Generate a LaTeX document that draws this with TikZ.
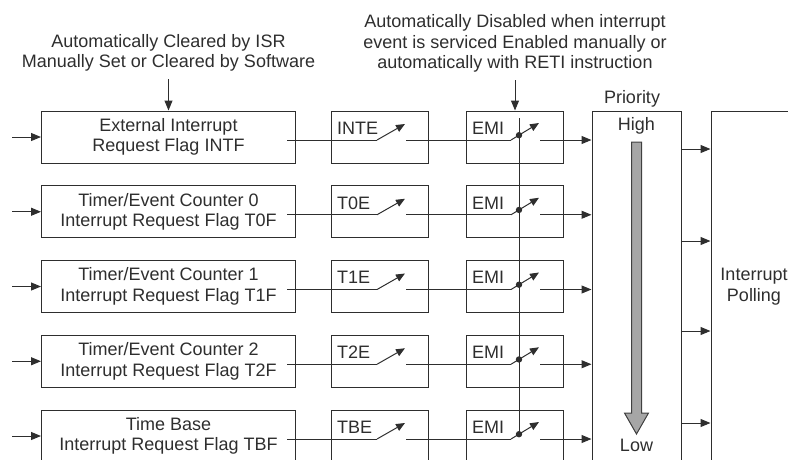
\documentclass[tikz,border=0pt]{standalone}
\usepackage{fontspec}
\setmainfont{Liberation Sans}
\usetikzlibrary{arrows.meta,calc}

\begin{document}
\begin{tikzpicture}[x=1pt, y=-1pt,
  font=\fontsize{18}{20.5}\selectfont,
  color=black!82, line width=1pt,
  flagbox/.style={draw, minimum width=254pt, minimum height=52pt, align=center, inner sep=0pt},
  swbox/.style={draw, minimum width=97pt, minimum height=52pt, inner sep=0pt},
  tag/.style={anchor=north west, inner sep=0pt},
  note/.style={align=center, inner sep=0pt},
  arr/.style={-{Triangle[length=10pt, width=8pt]}},
  lever/.style={-{Triangle[length=9pt, width=7.5pt]}}]
\clip (0,0) rectangle (788,459);
% priority and polling blocks
\node[draw, minimum width=89pt, minimum height=380pt, inner sep=0pt] (prio) at (636.5,301) {};
\node[draw, minimum width=119pt, minimum height=380pt, inner sep=0pt] (poll) at (770.5,301) {};
\node[anchor=south, inner sep=0pt] (priolbl) at (632,108) {Priority};
\node[inner sep=0pt] (high) at (636.5,125.5) {High};
\node[inner sep=0pt] (low) at (636.5,445.5) {Low};
\node[note] (polltxt) at (754,286.5) {Interrupt\\Polling};
\draw[fill=black!35, draw=black!75] (631.5,142) -- (641.5,142) -- (641.5,413) -- (648.5,413)
  -- (636.5,434) -- (624.5,413) -- (631.5,413) -- cycle;
\foreach \y in {149,241,331,423}
  \draw[arr] (prio.east |- 0,\y) -- (poll.west |- 0,\y);
% one row per interrupt source
\foreach \txt/\en [count=\i] in {{External Interrupt\\Request Flag INTF}/INTE,
    {Timer/Event Counter 0\\Interrupt Request Flag T0F}/T0E,
    {Timer/Event Counter 1\\Interrupt Request Flag T1F}/T1E,
    {Timer/Event Counter 2\\Interrupt Request Flag T2F}/T2E,
    {Time Base\\Interrupt Request Flag TBF}/TBE} {
  \pgfmathsetmacro\yt{111+74.75*(\i-1)}
  \node[flagbox] (flag\i) at (168.5,\yt+26) {\txt};
  \node[swbox] (en\i) at (379.5,\yt+26) {};
  \node[tag] (ent\i) at ($(en\i.north west)+(6,11)$) {\en};
  \node[swbox] (emi\i) at (514.5,\yt+26) {};
  \node[tag] (emit\i) at ($(emi\i.north west)+(6,11)$) {EMI};
  \coordinate (in\i) at (12,\yt+26);
  \coordinate (fo\i) at (287,\yt+29);
  \coordinate (ea\i) at (377,\yt+29);
  \coordinate (eb\i) at (405,\yt+13);
  \coordinate (ec\i) at (406,\yt+29);
  \coordinate (ma\i) at (511,\yt+29);
  \coordinate (mb\i) at (539,\yt+12);
  \coordinate (md\i) at (519,\yt+24.2);
  \coordinate (mo\i) at (540,\yt+29);
  \draw[arr] (in\i) -- (flag\i.west);
  \draw (fo\i) -- (ea\i);
  \draw[lever] (ea\i) -- (eb\i);
  \draw (ec\i) -- (ma\i);
  \draw[lever] (ma\i) -- (mb\i);
  \fill (md\i) circle (3.2);
  \draw[arr] (mo\i) -- (mo\i -| prio.west);
}
% global enable line
\coordinate (vtop) at (519,118);
\draw (vtop) -- (md5);
% notes on top
\node[note, anchor=south] (isrnote) at (168.5,72) {Automatically Cleared by ISR\\Manually Set or Cleared by Software};
\node[note, anchor=south] (retinote) at (515,73) {Automatically Disabled when interrupt\\event is serviced Enabled manually or\\automatically with RETI instruction};
\draw[arr, shorten <=7pt] (isrnote.south) -- (flag1.north);
\draw[arr, shorten <=7pt] (retinote.south) -- (retinote.south |- emi1.north);
\end{tikzpicture}
\end{document}
